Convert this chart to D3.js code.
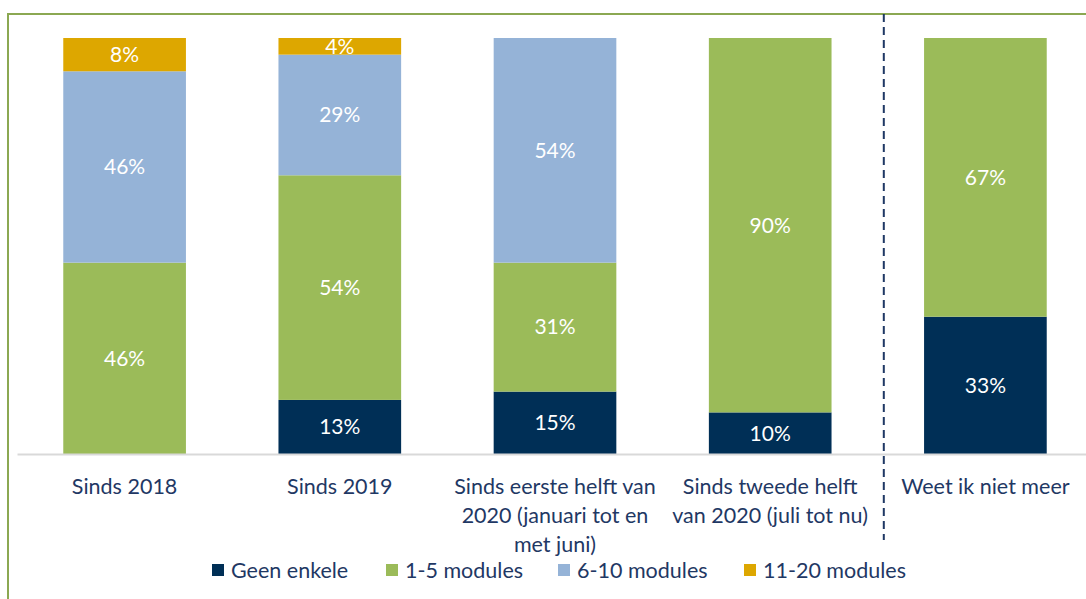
<!DOCTYPE html>
<html>
<head>
<meta charset="utf-8">
<script src="https://cdn.jsdelivr.net/npm/d3@7"></script>
<style>
  html, body { margin: 0; padding: 0; background: #fff; overflow: hidden; }
  svg { display: block; font-family: Lato, "Open Sans", sans-serif; }
</style>
</head>
<body>
<div id="chart"></div>
<script>
// categories (line breaks as in the original wrapped labels)
const categories = [
  'Sinds 2018',
  'Sinds 2019',
  'Sinds eerste helft van\n2020 (januari tot en\nmet juni)',
  'Sinds tweede helft\nvan 2020 (juli tot nu)',
  'Weet ik niet meer'
];
const seriesNames = ['Geen enkele', '1-5 modules', '6-10 modules', '11-20 modules'];
const geenEnkele = [0, 13, 15, 10, 33];
const modules1to5 = [46, 54, 31, 90, 67];
const modules6to10 = [46, 29, 54, 0, 0];
const modules11to20 = [8, 4, 0, 0, 0];
const seriesColors = ['#002F56', '#9BBB59', '#95B3D7', '#DDA700'];

const width = 1086, height = 599;
const svg = d3.select('#chart').append('svg')
  .attr('width', width)
  .attr('height', height);

// frame (green border around chart area)
svg.append('path')
  .attr('d', 'M8,' + height + ' V14 H' + width)
  .attr('fill', 'none')
  .attr('stroke', '#8BA852')
  .attr('stroke-width', 2);

const rows = categories.map((c, i) => ({
  cat: c,
  'Geen enkele': geenEnkele[i],
  '1-5 modules': modules1to5[i],
  '6-10 modules': modules6to10[i],
  '11-20 modules': modules11to20[i]
}));

const stacked = d3.stack().keys(seriesNames)(rows);

const x = d3.scaleBand()
  .domain(categories)
  .range([17, 1093])
  .paddingInner(0.43)
  .paddingOuter(0.215);

const y = d3.scaleLinear()
  .domain([0, 100])
  .range([454, 38]);

const color = d3.scaleOrdinal().domain(seriesNames).range(seriesColors);

const layers = svg.append('g').selectAll('g')
  .data(stacked)
  .join('g')
  .attr('fill', d => color(d.key));

layers.selectAll('rect')
  .data(d => d.filter(p => p[1] - p[0] > 0))
  .join('rect')
  .attr('x', d => x(d.data.cat))
  .attr('y', d => y(d[1]))
  .attr('width', x.bandwidth())
  .attr('height', d => y(d[0]) - y(d[1]));

// value labels
layers.selectAll('text')
  .data(d => d.filter(p => p[1] - p[0] > 0))
  .join('text')
  .attr('x', d => x(d.data.cat) + x.bandwidth() / 2)
  .attr('y', d => (y(d[0]) + y(d[1])) / 2)
  .attr('dy', '0.35em')
  .attr('text-anchor', 'middle')
  .attr('fill', '#fff')
  .attr('font-size', 21)
  .text(d => Math.round(d[1] - d[0]) + '%');

// x axis
const xAxis = svg.append('g')
  .attr('transform', 'translate(0,454)')
  .call(d3.axisBottom(x).tickSize(0).tickFormat(''));
xAxis.select('.domain')
  .attr('stroke', '#D9D9D9')
  .attr('stroke-width', 2);

const labels = svg.append('g').selectAll('text')
  .data(categories)
  .join('text')
  .attr('x', d => x(d) + x.bandwidth() / 2)
  .attr('y', 494)
  .attr('text-anchor', 'middle')
  .attr('fill', '#1F3864')
  .attr('font-size', 21.5);

labels.selectAll('tspan')
  .data(d => d.split('\n'))
  .join('tspan')
  .attr('x', function () { return d3.select(this.parentNode).attr('x'); })
  .attr('dy', (d, i) => i === 0 ? 0 : 29)
  .text(d => d);

// dashed separator before last category
const sepX = x(categories[4]) - x.step() * x.paddingInner() / 2 + 6;
svg.append('line')
  .attr('x1', sepX).attr('x2', sepX)
  .attr('y1', 14).attr('y2', 540)
  .attr('stroke', '#1F3864')
  .attr('stroke-width', 2)
  .attr('stroke-dasharray', '8,5');

// legend
const legendX = [212, 386, 558, 744];
const legend = svg.append('g').selectAll('g')
  .data(seriesNames)
  .join('g')
  .attr('transform', (d, i) => `translate(${legendX[i]},570)`);

legend.append('rect')
  .attr('x', 0).attr('y', -6)
  .attr('width', 12).attr('height', 12)
  .attr('fill', d => color(d));

legend.append('text')
  .attr('x', 19)
  .attr('dy', '0.35em')
  .attr('fill', '#1F3864')
  .attr('font-size', 21.5)
  .text(d => d);
</script>
</body>
</html>
